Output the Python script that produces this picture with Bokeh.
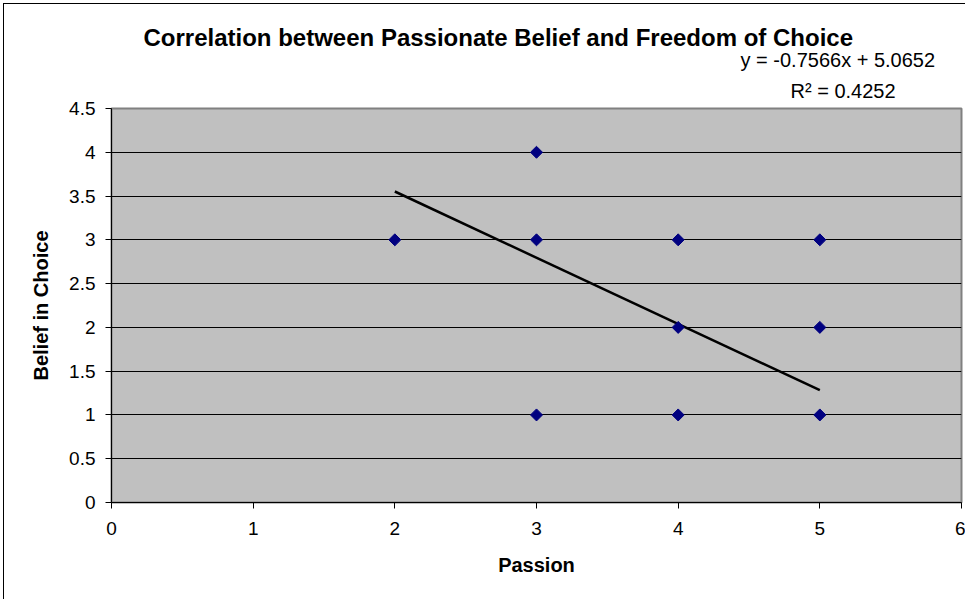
import math
from bokeh.plotting import figure
from bokeh.models import Range1d, FixedTicker, Title
from bokeh.embed import file_html
from bokeh.resources import INLINE

passion = [2, 3, 3, 3, 4, 4, 4, 5, 5, 5]
belief = [3, 4, 3, 1, 3, 2, 1, 3, 2, 1]
slope = -0.7566
intercept = 5.0652
r_squared = 0.4252
x_ticks = [0, 1, 2, 3, 4, 5, 6]
y_ticks = [0, 0.5, 1, 1.5, 2, 2.5, 3, 3.5, 4, 4.5]

FONT = "Liberation Sans"

p = figure(width=962, height=596, output_backend="svg", toolbar_location=None,
           x_range=Range1d(0, 6), y_range=Range1d(0, 4.5),
           min_border_left=107, min_border_top=104, min_border_right=5, min_border_bottom=98,
           styles={"border-left": "1px solid black", "border-top": "1px solid black",
                   "margin-left": "3px", "margin-top": "3px"})
p.background_fill_color = "#c0c0c0"
p.border_fill_color = "white"
p.outline_line_color = "#808080"
p.outline_line_width = 2

p.xgrid.grid_line_color = None
p.ygrid.grid_line_color = "black"
p.ygrid.grid_line_width = 1
p.ygrid.ticker = FixedTicker(ticks=y_ticks)

for ax in (p.xaxis[0], p.yaxis[0]):
    ax.axis_line_color = "black"
    ax.major_tick_line_color = "black"
    ax.major_tick_in = 0
    ax.major_tick_out = 6
    ax.minor_tick_line_color = None
    ax.major_label_text_font = FONT
    ax.major_label_text_font_size = "19px"
    ax.major_label_text_color = "black"
    ax.axis_label_text_font = FONT
    ax.axis_label_text_font_size = "20px"
    ax.axis_label_text_font_style = "bold"
    ax.axis_label_text_color = "black"

p.xaxis.ticker = FixedTicker(ticks=x_ticks)
p.yaxis.ticker = FixedTicker(ticks=y_ticks)
p.xaxis.axis_label = "Passion"
p.yaxis.axis_label = "Belief in Choice"
p.xaxis.major_label_standoff = 13
p.yaxis.major_label_standoff = 10
p.xaxis.axis_label_standoff = 16
p.yaxis.axis_label_standoff = 14

# trendline from the equation
x0, x1 = min(passion), max(passion)
p.line([x0, x1], [slope * x0 + intercept, slope * x1 + intercept], line_color="black", line_width=2.5)

p.scatter(passion, belief, marker="square", angle=math.pi / 4, size=8.5,
          fill_color="#000080", line_color="#000080")

p.add_layout(Title(text=f"R\u00b2 = {r_squared}", text_font=FONT, text_font_size="20px",
                   text_font_style="normal", text_color="black", align="left",
                   offset=679, standoff=14), "above")
p.add_layout(Title(text=f"y = {slope}x + {intercept}", text_font=FONT, text_font_size="20px",
                   text_font_style="normal", text_color="black", align="left",
                   offset=629, standoff=0), "above")
p.add_layout(Title(text="Correlation between Passionate Belief and Freedom of Choice",
                   text_font=FONT, text_font_size="24px", text_font_style="bold",
                   text_color="black", align="left", offset=32, standoff=-8), "above")

open("out.html", "w").write(file_html(p, INLINE))
